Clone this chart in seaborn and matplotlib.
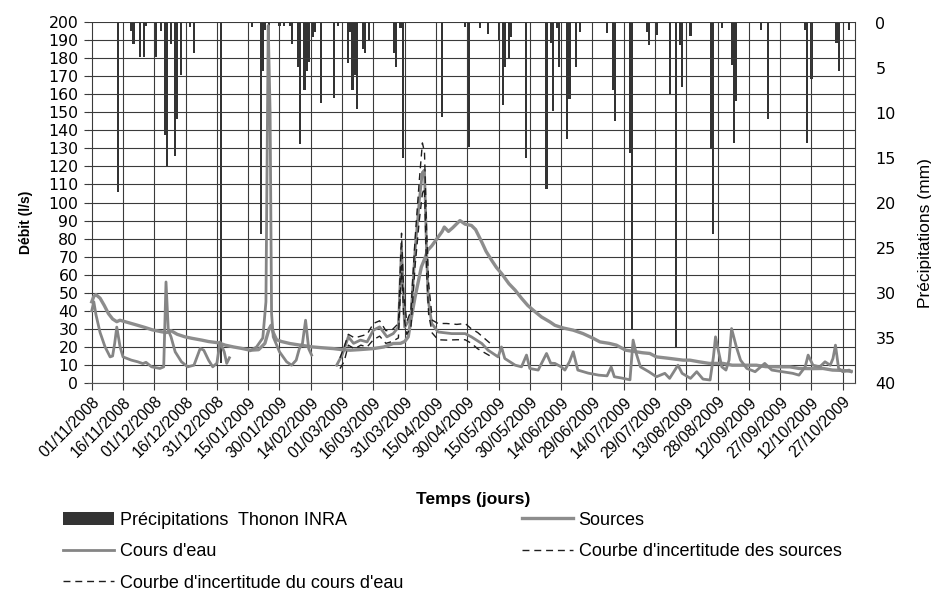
import numpy as np
import pandas as pd
import matplotlib
matplotlib.use('Agg')
import matplotlib.pyplot as plt
import seaborn as sns
from matplotlib.lines import Line2D
from matplotlib.patches import Patch

NARROW = ['Liberation Sans Narrow', 'Liberation Sans', 'DejaVu Sans']
SANS = ['Liberation Sans', 'DejaVu Sans']

debut = pd.Timestamp('2008-11-01')

tick_labels = ['01/11/2008', '16/11/2008', '01/12/2008', '16/12/2008', '31/12/2008',
               '15/01/2009', '30/01/2009', '14/02/2009', '01/03/2009', '16/03/2009',
               '31/03/2009', '15/04/2009', '30/04/2009', '15/05/2009', '30/05/2009',
               '14/06/2009', '29/06/2009', '14/07/2009', '29/07/2009', '13/08/2009',
               '28/08/2009', '12/09/2009', '27/09/2009', '12/10/2009', '27/10/2009']

# précipitations journalières (jour depuis le 01/11/2008, mm)
pluie_jour = [12.5, 19, 20, 23, 25, 26, 31, 33, 35, 36, 38, 40, 41, 43, 47, 49,
              62, 77, 81, 82, 83, 85, 90, 92, 95, 96, 99, 100, 102, 103, 104, 106,
              107, 110, 116, 118, 123, 124, 125, 126, 127, 130, 131, 133, 145, 146,
              148, 149, 168, 179, 181, 186, 190, 195, 197, 198, 200, 201, 208, 218,
              220, 221, 223, 224, 228, 229, 232, 234, 247, 250, 251, 258, 259, 266,
              267, 271, 277, 280, 282, 283, 287, 297, 298, 302, 307, 308, 309, 321,
              324, 342, 343, 345, 357, 358, 363]
pluie_mm = [18.8, 0.9, 2.3, 3.8, 3.8, 0.3, 3.8, 0.9, 12.4, 15.9, 2.3, 14.8, 10.7, 5.8, 0.5, 3.3,
            37.8, 0.5, 23.4, 5.4, 0.8, 8.3, 0.4, 0.4, 0.4, 2.3, 4.9, 13.5, 7.5, 5.4, 4.3, 1.6,
            1.0, 8.9, 8.4, 0.4, 4.5, 1.0, 7.5, 5.8, 9.6, 2.9, 3.4, 2.0, 3.4, 4.9,
            0.6, 15.0, 10.4, 0.5, 13.8, 0.6, 1.2, 2.0, 9.1, 4.9, 4.0, 1.6, 15.0, 18.5,
            2.2, 9.8, 0.6, 4.9, 12.9, 8.5, 4.9, 1.0, 1.1, 7.5, 10.9, 14.5, 34.0, 1.0,
            2.5, 1.4, 8.0, 36.0, 2.5, 7.1, 1.5, 14.0, 23.5, 0.6, 4.7, 13.3, 8.7, 0.8,
            10.7, 0.8, 13.3, 6.2, 2.2, 5.3, 0.8]

# sources (l/s)
src_jour = [0, 1, 2, 4, 6, 8, 10, 12, 13.5, 16, 19, 22, 25.5, 29, 33.5, 36, 38, 41,
            44.7, 48, 52.7, 56, 60.7, 64, 68, 71.9, 76, 80, 83, 85, 86, 87, 88.6, 91,
            95, 100, 106, 110, 115.8, 120, 123.8, 128, 135, 140, 144.5, 148, 150,
            151.7, 153, 155, 156.5, 158, 160, 161, 163, 166, 168, 169, 171, 173,
            176.5, 179, 182, 184, 187, 189, 191.7, 194, 196.5, 200, 203, 206, 209,
            212, 215.6, 219.6, 222, 226, 230.8, 235.5, 240, 243.6, 248, 251.5, 256,
            260, 264, 267.5, 270.7, 276, 283.5, 286.7, 291, 296, 302.6, 307, 312,
            318.6, 323, 329, 334.6, 339, 345, 350.5, 355, 360, 364]
src_debit = [45, 48, 49, 47, 43, 38.5, 35.5, 34, 34.8, 34, 33, 32, 30.8, 29.5, 28.4, 28, 29, 27,
             25.6, 24.8, 23.8, 23, 22.3, 21, 20, 19.2, 18.2, 18.5, 22, 30, 32, 28, 24, 23,
             21.9, 21, 20, 19.6, 19.1, 18.5, 18.2, 18.5, 19.1, 20, 21.9, 22, 23,
             25.6, 35, 47.7, 56, 64.3, 70, 73.5, 76, 80.8, 84, 86.4, 84, 86,
             90, 88, 87.3, 85, 78, 73, 68, 64, 60.6, 55, 51.4, 47, 43,
             40, 36.6, 33.9, 32, 30.5, 29.3, 27.4, 25, 22.8, 22, 21, 18.2,
             17.5, 16.8, 16.4, 14.5, 13.8, 12.7, 12.7, 11.8, 10.9, 10.9, 9.9, 9.9,
             9.9, 9.1, 9.0, 9.0, 8.1, 8.0, 8.1, 7.2, 7.0, 6.5]

# cours d'eau (l/s), nan = pas de mesure
ce_jour = [0, 1, 2, 4, 6.4, 8.8, 10, 11, 12, 13.6, 15, 19, 22, 24.5, 26, 28.7, 32.7, 34.5,
           35.6, 36.7, 38, 40, 43, 46, 49, 52, 53.7, 56, 58, 60, 61.5, 63.5, 64.7, 66,
           70, 76, 79, 82, 83.5, 84.6, 85.5, 86.2, 87, 90, 93.4, 95.8, 98, 99.5, 101,
           102.5, 104, 105.4, 110, 117.4, 120, 123, 125.5, 128.8, 132, 135, 138, 141.5,
           144.5, 147, 148.5, 149.5, 150, 153, 155, 157, 158.5, 159.5, 160.5, 161.3,
           163, 166, 172.5, 179, 182, 187, 190, 194.8, 196.4, 198, 203, 206, 208.4,
           210, 214, 218, 220, 222, 225, 226.8, 229, 230.8, 233, 238, 243, 247, 249,
           250.5, 254, 258, 259.5, 261, 263, 267, 270.7, 274.7, 277, 281, 283, 287,
           290, 293, 296.4, 298, 299, 302, 304, 305.5, 306.7, 309, 311, 314, 318,
           322.6, 326, 331, 336, 339, 342, 343.4, 345.7, 349, 351.5, 354, 355.3,
           356.5, 358, 360, 363, 364]
ce_debit = [40, 45, 38, 28, 20, 14.5, 15, 22, 31, 20, 14.5, 12.7, 11.8, 10.8, 11.5, 9, 8.1, 9,
            56, 29.3, 25.6, 17.3, 11.8, 9, 9.9, 19.2, 18.2, 12.7, 9, 11, 22.8, 17.3, 10.9, 14,
            np.nan, 18, 20, 25, 45, 198, 150, 38.5, 25.6, 17.3, 11.8, 9.9, 12.7, 19, 21.9,
            34.8, 19, 15.5, np.nan, 9.9, 15.5, 25.6, 22, 23.8, 22.8, 29.3, 31.1, 25.6,
            27.4, 31, 75, 45, 31, 36.6, 73.5, 101, 116.7, 118, 73.5, 45.9,
            33, 28.3, 27.4, 27.4, 25.6, 21.9, 18.2, 14.5, 20, 13.6, 9.9, 9, 15.5,
            8.1, 7.2, 16.4, 11, 10.9, 9, 7.2, 11.8, 17.3, 7.2, 5.5, 4.4, 4, 8.9,
            3.5, 2.8, 1.8, 23.8, 16.4, 9, 6.3, 3.5, 5.4, 2.6, 9.9, 5.4, 2.6,
            6.3, 2.2, 1.7, 14.5, 25.6, 9, 7.2, 12.7, 30.2, 20, 12.7, 8.1, 6.3,
            10.9, 7.2, 6.3, 5.4, 4.4, 9, 15.5, 9.9, 9, 11.8, 9.9, 13.6,
            21, 8.1, 6.3, 7.2, 6.3]

# courbes d'incertitude (bornes haute et basse)
inc_ce_jour = [119, 121, 123, 126, 129, 132, 135, 138, 141, 144, 147, 148.5, 149.5, 151,
               153, 155, 157, 158.5, 159.5, 160.5, 161.5, 163]
inc_ce_haut = [14, 20, 27, 25, 26, 27, 33, 34.5, 29, 29.5, 33, 83, 50, 34,
               40, 80, 112, 133, 128, 85, 55, 38]
inc_ce_bas = [8, 12, 21, 19, 21, 20, 24, 26, 22, 23, 25, 65, 38, 27,
              31, 65, 90, 105, 108, 62, 38, 29]

inc_src_jour = [163, 166, 170, 175, 179, 182, 185, 188, 191]
inc_src_haut = [35, 33, 33, 32.5, 33, 30, 28, 25, 22]
inc_src_bas = [28, 24, 23.8, 24, 24, 22, 19, 17, 15]


def segments(jour, debit, offset=0):
    df = pd.DataFrame({'jour': jour, 'debit': debit})
    df['seg'] = df['debit'].isna().cumsum() + offset
    return df.dropna()


src_df = segments(src_jour, src_debit)
ce_df = segments(ce_jour, ce_debit)
inc_ce_df = pd.concat([segments(inc_ce_jour, inc_ce_haut, 0),
                       segments(inc_ce_jour, inc_ce_bas, 10)])
inc_src_df = pd.concat([segments(inc_src_jour, inc_src_haut, 0),
                        segments(inc_src_jour, inc_src_bas, 10)])

tick_jours = (pd.to_datetime(tick_labels, format='%d/%m/%Y') - debut).days

fig, ax = plt.subplots(figsize=(9.31, 5.93), dpi=100)
fig.subplots_adjust(left=0.0945, right=0.918, bottom=0.354, top=0.963)

ax2 = ax.twinx()
ax2.bar(pluie_jour, pluie_mm, width=1.0, color='#333333', linewidth=0)
ax2.set_ylim(39.6, -0.1)
ax.set_zorder(ax2.get_zorder() + 1)
ax.patch.set_visible(False)

gris_src = '#8d8d8d'
gris_ce = '#858585'
tirets = (0, (5, 3.5))

sns.lineplot(data=src_df, x='jour', y='debit', units='seg', estimator=None,
             color=gris_src, linewidth=2.4, ax=ax, legend=False)
sns.lineplot(data=ce_df, x='jour', y='debit', units='seg', estimator=None,
             color=gris_ce, linewidth=2.0, ax=ax, legend=False)
sns.lineplot(data=inc_ce_df, x='jour', y='debit', units='seg', estimator=None,
             color='#1e1e1e', linewidth=1.0, linestyle=tirets, ax=ax, legend=False)
sns.lineplot(data=inc_src_df, x='jour', y='debit', units='seg', estimator=None,
             color='#1e1e1e', linewidth=1.0, linestyle=tirets, ax=ax, legend=False)

ax.set_xlim(-1.8, 365.7)
ax.set_ylim(0, 200)
ax.set_yticks(np.arange(0, 201, 10))
ax.set_xticks(tick_jours)
ax.set_xticklabels(tick_labels, rotation=45, ha='right', rotation_mode='anchor',
                   fontfamily=NARROW, fontsize=11.3)
ax.grid(True, color='#3a3a3a', linewidth=0.8)
ax.tick_params(axis='y', length=3, pad=4, labelsize=11.3, color='#3a3a3a')
ax.tick_params(axis='x', length=5, pad=3, color='#3a3a3a')

ax2.set_yticks(np.arange(0, 41, 5))
ax2.tick_params(axis='y', length=5, pad=10, labelsize=11.5, color='#3a3a3a')

sns.despine(ax=ax, top=True, right=True, left=True)
sns.despine(ax=ax2, top=True, left=True, bottom=True, right=False)
ax.spines['bottom'].set_color('#555555')
ax2.spines['right'].set_color('#3a3a3a')
ax2.spines['right'].set_linewidth(0.8)

ax.set_ylabel('Débit (l/s)', fontfamily=NARROW, fontsize=10, fontweight='bold')
ax.yaxis.set_label_coords(-0.0717, 0.446)
ax.set_xlabel('Temps (jours)', fontfamily=NARROW, fontsize=12.5, fontweight='bold')
ax.xaxis.set_label_coords(0.502, -0.302)
ax2.set_ylabel('Précipitations (mm)', fontfamily=SANS, fontsize=12.5)
ax2.yaxis.set_label_coords(1.082, 0.415)

handles = [Patch(facecolor='#333333', edgecolor='none'),
           Line2D([], [], color=gris_ce, linewidth=2.0),
           Line2D([], [], color='#1e1e1e', linewidth=1.0, linestyle=tirets),
           Line2D([], [], color=gris_src, linewidth=2.4),
           Line2D([], [], color='#1e1e1e', linewidth=1.0, linestyle=tirets)]
labels = ['Précipitations  Thonon INRA', "Cours d'eau",
          "Courbe d'incertitude du cours d'eau", 'Sources',
          "Courbe d'incertitude des sources"]
fig.legend(handles, labels, loc='upper left', bbox_to_anchor=(0.0677, 0.137),
           ncol=2, frameon=False, prop={'family': NARROW, 'size': 13},
           handlelength=2.8, handletextpad=0.33, labelspacing=0.8,
           columnspacing=6.6, borderpad=0, borderaxespad=0)

fig.savefig('out.png', dpi=100)
